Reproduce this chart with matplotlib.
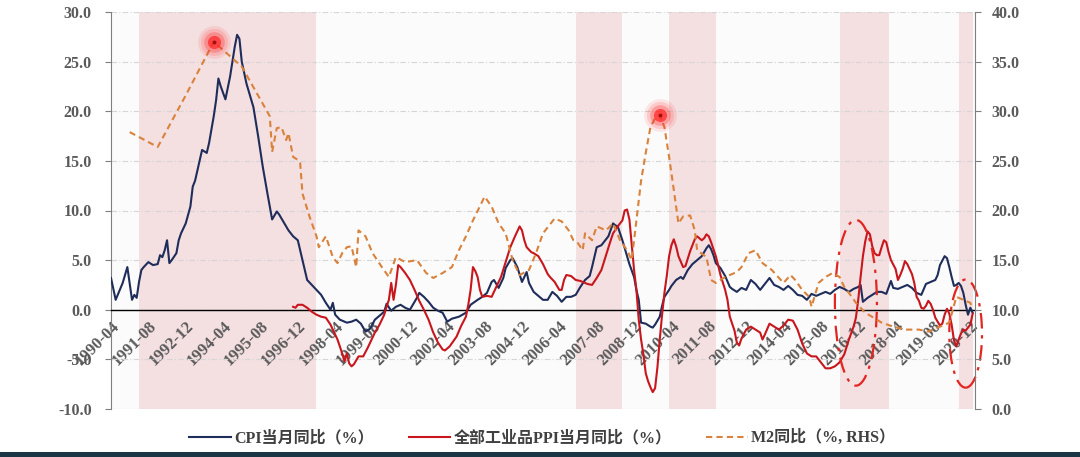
import matplotlib
matplotlib.use("Agg")
import matplotlib.pyplot as plt
from matplotlib.font_manager import FontProperties
from matplotlib.lines import Line2D
from matplotlib.patches import Ellipse, Rectangle

# values (monthly, YoY %)
cpi_dates = [
    "1990-04", "1990-06", "1990-09", "1990-11", "1991-01", "1991-02", "1991-03", "1991-04", "1991-05", "1991-06",
    "1991-08", "1991-10", "1991-12", "1992-01", "1992-02", "1992-03", "1992-04", "1992-05", "1992-06", "1992-08",
    "1992-09", "1992-10", "1992-12", "1993-02", "1993-03", "1993-04", "1993-06", "1993-07", "1993-09", "1993-10",
    "1993-12", "1994-01", "1994-02", "1994-03", "1994-05", "1994-07", "1994-09", "1994-10", "1994-11", "1994-12",
    "1995-02", "1995-05", "1995-07", "1995-09", "1995-11", "1996-01", "1996-03", "1996-04", "1996-06", "1996-08",
    "1996-10", "1996-12", "1997-02", "1997-04", "1997-06", "1997-08", "1997-10", "1997-12", "1998-02", "1998-03",
    "1998-04", "1998-06", "1998-09", "1998-11", "1999-01", "1999-03", "1999-05", "1999-07", "1999-09", "1999-11",
    "2000-01", "2000-02", "2000-04", "2000-06", "2000-08", "2000-10", "2000-12", "2001-03", "2001-04", "2001-06",
    "2001-08", "2001-10", "2001-12", "2002-02", "2002-04", "2002-06", "2002-09", "2002-12", "2003-02", "2003-05",
    "2003-07", "2003-09", "2003-11", "2003-12", "2004-02", "2004-04", "2004-05", "2004-07", "2004-08", "2004-10",
    "2004-12", "2005-02", "2005-03", "2005-05", "2005-07", "2005-09", "2005-11", "2006-01", "2006-03", "2006-05",
    "2006-07", "2006-09", "2006-11", "2007-01", "2007-03", "2007-05", "2007-06", "2007-08", "2007-10", "2007-12",
    "2008-01", "2008-03", "2008-04", "2008-05", "2008-07", "2008-09", "2008-10", "2008-12", "2009-01", "2009-02",
    "2009-03", "2009-05", "2009-07", "2009-08", "2009-09", "2009-11", "2009-12", "2010-01", "2010-03", "2010-04",
    "2010-06", "2010-08", "2010-09", "2010-11", "2011-01", "2011-03", "2011-05", "2011-07", "2011-08", "2011-09",
    "2011-10", "2011-11", "2012-01", "2012-03", "2012-05", "2012-06", "2012-08", "2012-10", "2012-12", "2013-02",
    "2013-04", "2013-06", "2013-08", "2013-10", "2013-12", "2014-02", "2014-04", "2014-06", "2014-08", "2014-10",
    "2014-12", "2015-02", "2015-04", "2015-06", "2015-08", "2015-10", "2015-12", "2016-02", "2016-04", "2016-06",
    "2016-08", "2016-10", "2016-12", "2017-01", "2017-02", "2017-04", "2017-06", "2017-08", "2017-10", "2017-12",
    "2018-02", "2018-03", "2018-05", "2018-07", "2018-09", "2018-11", "2019-01", "2019-03", "2019-05", "2019-07",
    "2019-09", "2019-10", "2019-11", "2020-01", "2020-02", "2020-03", "2020-04", "2020-05", "2020-06", "2020-07",
    "2020-08", "2020-09", "2020-10", "2020-11", "2020-12", "2021-01",
]
cpi_values = [
    3.2, 1.0, 2.7, 4.3, 1.0, 1.5, 1.2, 2.8, 4.0, 4.3,
    4.8, 4.5, 4.6, 5.5, 5.3, 6.0, 7.0, 4.7, 5.0, 5.7,
    7.0, 7.7, 8.7, 10.4, 12.4, 13.0, 15.1, 16.1, 15.8, 16.8,
    19.5, 21.1, 23.3, 22.5, 21.2, 23.5, 26.5, 27.7, 27.3, 25.0,
    22.8, 20.4, 17.5, 14.4, 11.7, 9.1, 9.9, 9.6, 8.8, 8.0,
    7.4, 7.0, 5.0, 3.0, 2.5, 2.0, 1.5, 0.7, 0.0, 0.7,
    -0.5, -1.0, -1.3, -1.2, -1.0, -1.4, -2.2, -1.9, -1.0, -0.6,
    -0.2, 0.6, -0.1, 0.3, 0.5, 0.2, 0.0, 1.2, 1.7, 1.3,
    0.8, 0.2, -0.1, -0.3, -1.2, -0.9, -0.7, -0.3, 0.5, 1.0,
    1.3, 1.7, 2.8, 3.0, 2.2, 3.2, 4.2, 5.0, 5.2, 4.3,
    2.8, 3.8, 2.7, 1.8, 1.4, 1.0, 1.0, 1.8, 1.4, 0.8,
    1.3, 1.3, 1.5, 2.3, 3.0, 3.4, 4.3, 6.3, 6.5, 7.1,
    7.4, 8.7, 8.5, 8.4, 7.0, 5.4, 4.6, 3.3, 2.0, 1.0,
    -1.3, -1.4, -1.7, -1.8, -1.5, -0.7, 0.4, 1.3, 2.0, 2.4,
    3.0, 3.3, 3.1, 4.0, 4.6, 5.0, 5.4, 6.2, 6.5, 6.1,
    5.5, 4.7, 4.2, 3.4, 2.3, 2.1, 1.8, 2.2, 2.0, 3.0,
    2.6, 2.0, 2.6, 3.2, 2.5, 2.3, 2.0, 2.4, 2.0, 1.5,
    1.4, 1.0, 1.6, 1.4, 1.6, 1.8, 1.6, 2.0, 2.3, 2.1,
    1.8, 2.1, 2.3, 2.5, 0.8, 1.2, 1.5, 1.8, 1.8, 1.6,
    2.9, 2.2, 2.1, 2.3, 2.5, 2.2, 1.7, 1.5, 2.6, 2.8,
    3.0, 3.5, 4.5, 5.4, 5.2, 4.3, 3.3, 2.4, 2.5, 2.7,
    2.4, 1.7, 0.5, -0.5, 0.2, -0.3,
]

ppi_dates = [
    "1996-10", "1996-11", "1996-12", "1997-02", "1997-04", "1997-06", "1997-08", "1997-10", "1997-12", "1998-02",
    "1998-03", "1998-05", "1998-06", "1998-07", "1998-08", "1998-09", "1998-10", "1998-11", "1998-12", "1999-02",
    "1999-04", "1999-06", "1999-07", "1999-09", "1999-11", "2000-01", "2000-02", "2000-03", "2000-04", "2000-05",
    "2000-06", "2000-07", "2000-08", "2000-10", "2000-12", "2001-02", "2001-04", "2001-06", "2001-08", "2001-10",
    "2001-12", "2002-02", "2002-03", "2002-05", "2002-08", "2002-10", "2002-12", "2003-01", "2003-02", "2003-03",
    "2003-04", "2003-05", "2003-06", "2003-07", "2003-09", "2003-11", "2004-01", "2004-03", "2004-05", "2004-07",
    "2004-09", "2004-11", "2004-12", "2005-01", "2005-02", "2005-04", "2005-05", "2005-07", "2005-09", "2005-11",
    "2005-12", "2006-02", "2006-04", "2006-05", "2006-06", "2006-07", "2006-09", "2006-11", "2007-01", "2007-02",
    "2007-04", "2007-06", "2007-08", "2007-10", "2007-12", "2008-02", "2008-03", "2008-05", "2008-07", "2008-08",
    "2008-09", "2008-10", "2008-11", "2008-12", "2009-01", "2009-02", "2009-03", "2009-04", "2009-05", "2009-06",
    "2009-07", "2009-08", "2009-09", "2009-10", "2009-11", "2009-12", "2010-01", "2010-02", "2010-03", "2010-04",
    "2010-05", "2010-06", "2010-07", "2010-09", "2010-10", "2010-12", "2011-02", "2011-03", "2011-05", "2011-06",
    "2011-07", "2011-08", "2011-09", "2011-11", "2011-12", "2012-01", "2012-03", "2012-04", "2012-05", "2012-07",
    "2012-08", "2012-09", "2012-10", "2012-12", "2013-02", "2013-04", "2013-06", "2013-07", "2013-08", "2013-10",
    "2013-12", "2014-02", "2014-04", "2014-06", "2014-08", "2014-10", "2014-12", "2015-02", "2015-04", "2015-06",
    "2015-08", "2015-10", "2015-12", "2016-02", "2016-04", "2016-06", "2016-08", "2016-10", "2016-11", "2016-12",
    "2017-01", "2017-02", "2017-03", "2017-04", "2017-05", "2017-06", "2017-07", "2017-08", "2017-09", "2017-10",
    "2017-11", "2017-12", "2018-01", "2018-02", "2018-04", "2018-05", "2018-06", "2018-07", "2018-08", "2018-09",
    "2018-10", "2018-11", "2018-12", "2019-01", "2019-02", "2019-03", "2019-04", "2019-05", "2019-06", "2019-07",
    "2019-08", "2019-09", "2019-10", "2019-11", "2019-12", "2020-01", "2020-02", "2020-03", "2020-04", "2020-05",
    "2020-06", "2020-07", "2020-08", "2020-09", "2020-10", "2020-11", "2020-12", "2021-01",
]
ppi_values = [
    0.3, 0.2, 0.5, 0.5, 0.2, -0.2, -0.5, -0.7, -0.8, -1.5,
    -2.0, -3.0, -3.7, -4.4, -5.2, -4.4, -5.4, -5.7, -5.5, -4.7,
    -4.7, -3.8, -3.3, -2.3, -1.5, -0.5, 0.3, 1.0, 2.7, 1.0,
    2.5, 4.5, 4.3, 3.7, 3.0, 2.0, 0.9, 0.0, -1.0, -2.3,
    -3.3, -4.0, -4.1, -3.7, -2.7, -1.6, -0.7, 0.5, 2.0, 4.3,
    3.9, 3.3, 2.0, 1.3, 1.4, 1.3, 2.3, 3.3, 4.8, 6.3,
    7.4, 8.4, 8.0, 7.0, 6.3, 5.8, 5.7, 5.4, 4.6, 3.6,
    3.3, 2.8, 2.0, 2.0, 3.0, 3.5, 3.4, 3.0, 2.9, 2.8,
    2.6, 2.5, 3.2, 4.0, 5.5, 7.0, 7.7, 8.4, 9.0, 10.0,
    10.1, 9.1, 6.5, 4.0, 2.0, -1.0, -3.0, -4.5, -6.4, -7.2,
    -7.8, -8.3, -7.9, -5.8, -3.0, -0.5, 1.7, 3.4, 5.4, 6.5,
    7.1, 6.4, 5.4, 4.3, 4.4, 5.9, 7.1, 7.4, 7.0, 7.2,
    7.6, 7.4, 6.8, 5.4, 4.5, 3.5, 2.0, 1.0, -0.7, -2.1,
    -3.3, -3.6, -2.9, -2.0, -1.7, -2.0, -2.3, -3.0, -2.5, -1.4,
    -1.7, -2.0, -1.6, -1.0, -1.1, -2.0, -3.4, -4.4, -4.7, -4.7,
    -5.3, -5.9, -5.9, -5.7, -5.3, -4.5, -3.0, -1.7, -0.8, 1.0,
    3.3, 5.4, 6.9, 7.9, 7.6, 6.4, 5.7, 5.5, 5.5, 6.3,
    7.0, 6.8, 5.8, 5.0, 4.1, 3.0, 3.5, 4.1, 4.9, 4.6,
    4.1, 3.6, 2.7, 1.3, 0.9, 0.2, 0.1, 0.4, 0.9, 0.6,
    0.0, -0.8, -1.2, -1.6, -1.4, -0.5, 0.1, -0.4, -1.5, -3.1,
    -3.7, -3.0, -2.4, -2.0, -2.1, -1.8, -1.5, -0.4,
]

m2_dates = [
    "1990-12", "1991-12", "1992-12", "1993-12", "1994-12", "1995-12", "1996-01", "1996-03", "1996-05", "1996-07",
    "1996-08", "1996-10", "1996-12", "1997-01", "1997-02", "1997-05", "1997-08", "1997-09", "1997-12", "1998-03",
    "1998-05", "1998-07", "1998-09", "1998-11", "1999-01", "1999-02", "1999-05", "1999-08", "1999-12", "2000-03",
    "2000-06", "2000-10", "2001-03", "2001-07", "2001-10", "2002-02", "2002-06", "2002-09", "2002-12", "2003-03",
    "2003-08", "2003-11", "2004-02", "2004-05", "2004-08", "2004-11", "2005-03", "2005-06", "2005-09", "2006-02",
    "2006-05", "2006-08", "2006-10", "2006-12", "2007-02", "2007-03", "2007-06", "2007-08", "2007-12", "2008-03",
    "2008-06", "2008-09", "2008-11", "2009-03", "2009-05", "2009-07", "2009-09", "2009-11", "2010-01", "2010-03",
    "2010-05", "2010-07", "2010-09", "2010-12", "2011-02", "2011-03", "2011-07", "2011-09", "2011-11", "2012-03",
    "2012-08", "2012-10", "2013-01", "2013-04", "2013-07", "2013-11", "2014-04", "2014-07", "2014-09", "2014-12",
    "2015-03", "2015-04", "2015-07", "2015-10", "2016-01", "2016-04", "2016-06", "2016-08", "2016-11", "2017-03",
    "2017-08", "2017-10", "2018-03", "2018-08", "2019-02", "2019-06", "2019-11", "2020-03", "2020-06", "2020-09",
    "2020-12", "2021-01",
]
m2_values = [
    27.9, 26.4, 31.6, 37.0, 34.5, 29.5, 25.9, 28.3, 28.4, 27.1,
    27.8, 25.4, 25.1, 24.8, 21.7, 19.4, 17.4, 16.3, 17.4, 15.3,
    14.7, 15.7, 16.3, 16.4, 14.3, 18.0, 17.4, 15.7, 14.3, 13.3,
    15.3, 14.8, 15.0, 13.7, 13.2, 13.7, 14.3, 16.0, 17.4, 19.0,
    21.4, 20.4, 18.7, 17.7, 15.0, 13.5, 14.0, 15.7, 17.7, 19.2,
    18.9, 18.0, 17.0, 16.7, 16.0, 17.7, 17.0, 18.4, 18.0, 18.7,
    17.0, 16.0, 15.0, 23.0, 25.8, 28.4, 29.3, 29.6, 28.4, 25.4,
    22.1, 18.7, 19.4, 19.5, 18.0, 16.0, 15.3, 13.0, 12.7, 13.3,
    13.8, 14.3, 15.7, 16.0, 14.7, 14.0, 12.7, 13.5, 13.0, 12.0,
    11.3, 10.3, 12.7, 13.3, 13.7, 13.3, 12.3, 11.7, 10.7, 9.7,
    9.0, 8.7, 8.3, 8.0, 8.0, 7.8, 8.3, 8.7, 11.3, 11.0,
    10.7, 10.1,
]

tick_labels = [
    "1990-04", "1991-08", "1992-12", "1994-04", "1995-08", "1996-12", "1998-04", "1999-08",
    "2000-12", "2002-04", "2003-08", "2004-12", "2006-04", "2007-08", "2008-12", "2010-04",
    "2011-08", "2012-12", "2014-04", "2015-08", "2016-12", "2018-04", "2019-08", "2020-12",
]

# shaded periods
shade_starts = ["1991-04", "2006-11", "2010-03", "2016-04", "2020-07"]
shade_ends = ["1997-08", "2008-07", "2011-11", "2018-01", "2021-01"]

# highlighted M2 peaks and dash-dot ellipse callouts
peak_dates = ["1993-12", "2009-11"]
ellipse_dates = ["2016-11", "2020-10"]
ellipse_levels = [0.7, -2.4]
ellipse_months = [18, 14]
ellipse_spans = [16.7, 10.9]

legend_labels = ["CPI当月同比（%）", "全部工业品PPI当月同比（%）", "M2同比（%, RHS）"]


def month_index(date_str):
    year, month = date_str.split("-")
    return (int(year) - 1990) * 12 + int(month) - 4


CPI_COLOR = "#1f2d5a"
PPI_COLOR = "#c8161d"
M2_COLOR = "#d9823b"
LABEL_COLOR = "#5a5a5a"
M2_DASH = (0, (3, 2))

num_font = FontProperties(family="Liberation Serif", weight="bold", size=11.5)
date_font = FontProperties(family="Liberation Serif", weight="bold", size=12)
legend_font = FontProperties(family=["Liberation Serif", "Noto Sans CJK SC"], weight="bold", size=11.5)

fig = plt.figure(figsize=(10.8, 4.57), dpi=100)
ax = fig.add_axes([111 / 1080, 48 / 457, 864 / 1080, 397 / 457])
ax.set_facecolor("#fbfbfb")
ax.set_xlim(0, 370)
ax.set_ylim(-10, 30)

for start, end in zip(shade_starts, shade_ends):
    ax.axvspan(month_index(start), month_index(end), color="#f4dfe1", lw=0, zorder=0)

left_ticks = list(range(-10, 31, 5))
ax.set_yticks(left_ticks)
ax.set_yticklabels([f"{v:.1f}" for v in left_ticks], fontproperties=num_font, color=LABEL_COLOR)
ax.set_axisbelow(True)
ax.grid(axis="y", color="#d6d6d6", lw=0.8, ls=(0, (5, 2, 1, 2)))
ax.grid(axis="x", visible=False)

ax.spines["top"].set_visible(False)
ax.spines["right"].set_visible(False)
ax.spines["bottom"].set_position(("data", 0))
ax.spines["bottom"].set_color("black")
ax.spines["bottom"].set_linewidth(1.0)
ax.spines["left"].set_color("#7f7f7f")
ax.tick_params(axis="y", direction="out", length=4, color="#7f7f7f", pad=10)
ax.tick_params(axis="x", length=0, pad=6)

ax.set_xticks([month_index(t) for t in tick_labels])
ax.set_xticklabels(tick_labels, rotation=45, ha="right", va="top", rotation_mode="anchor",
                   fontproperties=date_font, color=LABEL_COLOR)

ax.plot([month_index(d) for d in cpi_dates], cpi_values, color=CPI_COLOR, lw=1.5, zorder=3)
ax.plot([month_index(d) for d in ppi_dates], ppi_values, color=PPI_COLOR, lw=1.5, zorder=3)

ax2 = ax.twinx()
ax2.set_ylim(0, 40)
right_ticks = list(range(0, 41, 5))
ax2.set_yticks(right_ticks)
ax2.set_yticklabels([f"{v:.1f}" for v in right_ticks], fontproperties=num_font, color=LABEL_COLOR)
for side in ["top", "bottom", "left"]:
    ax2.spines[side].set_visible(False)
ax2.spines["right"].set_color("#7f7f7f")
ax2.tick_params(axis="y", direction="out", length=4, color="#7f7f7f", pad=8)

ax2.plot([month_index(d) for d in m2_dates], m2_values, color=M2_COLOR, lw=1.5, ls=M2_DASH, zorder=3)

# glowing markers on the two M2 peaks
for d in peak_dates:
    px = month_index(d)
    py = m2_values[m2_dates.index(d)]
    for size, alpha in [(560, 0.10), (380, 0.15), (220, 0.28), (90, 0.75)]:
        ax2.scatter(px, py, s=size, color="#ff2b2b", alpha=alpha, lw=0, zorder=5)
    ax2.scatter(px, py, s=8, color="#a50f0f", lw=0, zorder=6)

for d, lvl, w, h in zip(ellipse_dates, ellipse_levels, ellipse_months, ellipse_spans):
    ax.add_patch(Ellipse((month_index(d), lvl), w, h, fill=False, ec="#e3261f", lw=1.6,
                         ls=(0, (7, 3, 1.5, 3)), clip_on=False, zorder=6))

handles = [
    Line2D([], [], color=CPI_COLOR, lw=1.5),
    Line2D([], [], color=PPI_COLOR, lw=1.5),
    Line2D([], [], color=M2_COLOR, lw=1.5, ls=M2_DASH),
]
leg = fig.legend(handles, legend_labels, loc="center", bbox_to_anchor=(0.502, 1 - 438 / 457), ncol=3,
                 frameon=False, prop=legend_font, handlelength=2.6, handletextpad=0.2, columnspacing=2.2)
for text in leg.get_texts():
    text.set_color("#404040")

fig.add_artist(Rectangle((0, 0), 1, 5 / 457, transform=fig.transFigure, color="#1b3644", lw=0))

fig.savefig("out.png", dpi=100)
